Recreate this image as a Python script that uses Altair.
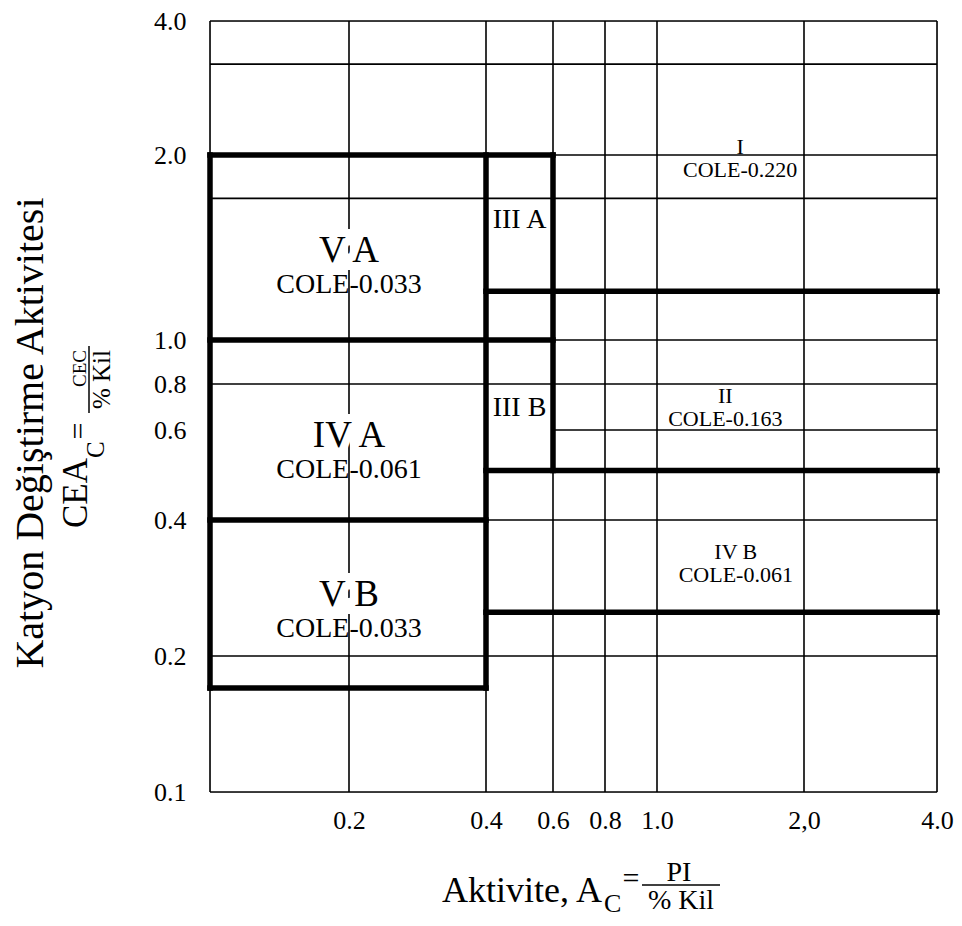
import altair as alt
import pandas as pd

SERIF = "Liberation Serif"

# ---------------- data ----------------
X_TICKS = [0.2, 0.4, 0.6, 0.8, 1.0, 2.0, 4.0]
X_TICK_LABELS = ["0.2", "0.4", "0.6", "0.8", "1.0", "2,0", "4.0"]
Y_TICKS = [0.1, 0.2, 0.4, 0.6, 0.8, 1.0, 2.0, 4.0]
Y_TICK_LABELS = ["0.1", "0.2", "0.4", "0.6", "0.8", "1.0", "2.0", "4.0"]

# thin grid lines
GRID_X = [0.1, 0.2, 0.4, 0.6, 0.8, 1.0, 2.0, 4.0]
GRID_Y = [0.1, 0.2, 0.4, 0.8, 1.0, 1.7, 2.0, 3.2, 4.0]
PARTIAL_Y = [0.6]          # runs from x = 0.6 to 4.0 only
PARTIAL_X_FROM = [0.6]

# thick class boundaries (segments)
THICK_X1 = [0.1, 0.4, 0.1, 0.4, 0.1, 0.4, 0.1, 0.1, 0.4, 0.6]
THICK_X2 = [0.6, 4.0, 0.6, 4.0, 0.4, 4.0, 0.4, 0.1, 0.4, 0.6]
THICK_Y1 = [2.0, 1.2, 1.0, 0.5, 0.4, 0.25, 0.17, 0.17, 0.17, 0.5]
THICK_Y2 = [2.0, 1.2, 1.0, 0.5, 0.4, 0.25, 0.17, 2.0, 2.0, 2.0]

# class labels
REGION_NAMES = ["V A", "III A", "I", "IV A", "III B", "II", "V B", "IV B"]
REGION_COLE = ["COLE-0.033", "", "COLE-0.220", "COLE-0.061", "", "COLE-0.163", "COLE-0.033", "COLE-0.061"]
REGION_X = [0.2, 0.49, 1.48, 0.2, 0.49, 1.38, 0.2, 1.45]
REGION_Y = [1.31, 1.57, 1.97, 0.54, 0.69, 0.69, 0.25, 0.32]
REGION_CLASS = ["large", "mid", "small", "large", "mid", "small", "large", "small"]

# ---------------- tables ----------------
thin_rows = []
for gx in GRID_X:
    thin_rows.append({"x1": gx, "x2": gx, "y1": 0.1, "y2": 4.0})
for gy in GRID_Y:
    thin_rows.append({"x1": 0.1, "x2": 4.0, "y1": gy, "y2": gy})
for gy, gx0 in zip(PARTIAL_Y, PARTIAL_X_FROM):
    thin_rows.append({"x1": gx0, "x2": 4.0, "y1": gy, "y2": gy})
thin = pd.DataFrame(thin_rows)

thick = pd.DataFrame({"x1": THICK_X1, "x2": THICK_X2, "y1": THICK_Y1, "y2": THICK_Y2})

regions = pd.DataFrame({
    "name": REGION_NAMES, "cole": REGION_COLE,
    "x": REGION_X, "y": REGION_Y, "cls": REGION_CLASS,
})


def label_expr(values, labels):
    expr = "''"
    for v, l in zip(values, labels):
        expr = f"(abs(datum.value - {v}) < 0.000001 ? '{l}' : {expr})"
    return expr


# hand-drawn log axes of the original: piecewise log scales
X_SCALE = alt.Scale(type="log", domain=[0.1, 0.2, 0.4, 0.6, 0.8, 1.0, 2.0, 4.0],
                    range=[0, 139, 276, 343, 395, 447, 594, 727], nice=False, zero=False)
Y_SCALE = alt.Scale(type="log", domain=[0.1, 0.2, 0.4, 0.6, 0.8, 1.0, 2.0, 4.0],
                    range=[771, 635, 499, 409, 363, 319, 134, 0], nice=False, zero=False)

X_AXIS = alt.Axis(values=X_TICKS, labelExpr=label_expr(X_TICKS, X_TICK_LABELS),
                  ticks=False, domain=False, grid=False, title=None,
                  labelFont=SERIF, labelFontSize=26, labelColor="black",
                  labelPadding=15, labelFlush=False, labelOverlap=False)
Y_AXIS = alt.Axis(values=Y_TICKS, labelExpr=label_expr(Y_TICKS, Y_TICK_LABELS),
                  ticks=False, domain=False, grid=False, title=None,
                  labelFont=SERIF, labelFontSize=26, labelColor="black",
                  labelPadding=24, labelFlush=False, labelOverlap=False)


def xenc(field):
    return alt.X(field, scale=X_SCALE, axis=X_AXIS)


def yenc(field):
    return alt.Y(field, scale=Y_SCALE, axis=Y_AXIS)


thin_layer = alt.Chart(thin).mark_rule(color="black", strokeWidth=1.6).encode(
    x=xenc("x1:Q"), x2="x2:Q", y=yenc("y1:Q"), y2="y2:Q",
)

thick_layer = alt.Chart(thick).mark_rule(color="black", strokeWidth=5.5, strokeCap="square").encode(
    x=xenc("x1:Q"), x2="x2:Q", y=yenc("y1:Q"), y2="y2:Q",
)


def region_text(cls, field, size, dy, halo=False):
    style = dict(font=SERIF, fontSize=size, dy=dy, baseline="middle")
    if halo:
        style.update(color="white", stroke="white", strokeWidth=16)
    else:
        style.update(color="black")
    return alt.Chart(regions).transform_filter(
        f"datum.cls == '{cls}' && datum.{field} != ''"
    ).mark_text(**style).encode(
        x=xenc("x:Q"), y=yenc("y:Q"), text=f"{field}:N",
    )


text_layers = [
    region_text("large", "name", 37, -17, halo=True),
    region_text("large", "name", 37, -17),
    region_text("large", "cole", 28, 17),
    region_text("mid", "name", 28, 0),
    region_text("small", "name", 22, -12),
    region_text("small", "cole", 22, 11),
]

ONE = alt.Data(values=[{}])


def piece(text, x, y, size, angle=0, align="center", baseline="alphabetic"):
    return alt.Chart(ONE).mark_text(
        text=text, font=SERIF, fontSize=size, angle=angle, align=align,
        baseline=baseline, color="black",
    ).encode(x=alt.value(x), y=alt.value(y))


def bar(x1, x2, y1, y2):
    return alt.Chart(ONE).mark_rule(color="black", strokeWidth=1.5).encode(
        x=alt.value(x1), x2=alt.value(x2), y=alt.value(y1), y2=alt.value(y2))


# x-axis title:  Aktivite, A_c = PI / % Kil
x_title = [
    piece("Aktivite, A", 392, 881, 36, align="right"),
    piece("C", 394, 891, 26, align="left"),
    piece("=", 421, 867, 30),
    piece("PI", 469, 860, 28),
    bar(432, 510, 864, 864),
    piece("% Kil", 471, 888, 28),
]

# y-axis title:  Katyon Değiştirme Aktivitesi / CEA_c = CEC / % Kil
y_title = [
    piece("Katyon Değiştirme Aktivitesi", -167, 412, 40, angle=270),
    piece("CEA", -123, 507, 35, angle=270, align="left"),
    piece("C", -106, 437, 25, angle=270, align="left"),
    piece("=", -122, 410, 30, angle=270),
    piece("CEC", -124, 329, 19, angle=270, align="right"),
    bar(-121, -121, 325, 392),
    piece("% Kil", -100, 329, 25, angle=270, align="right"),
]

chart = alt.layer(
    thin_layer, thick_layer, *text_layers, *x_title, *y_title
).properties(
    width=727, height=771,
    autosize=alt.AutoSizeParams(type="none"),
    padding={"left": 202, "top": 13, "right": 17, "bottom": 126},
).configure_view(strokeWidth=0).configure(background="white")

chart.save("out.html", embed_options={"renderer": "svg", "actions": False})
